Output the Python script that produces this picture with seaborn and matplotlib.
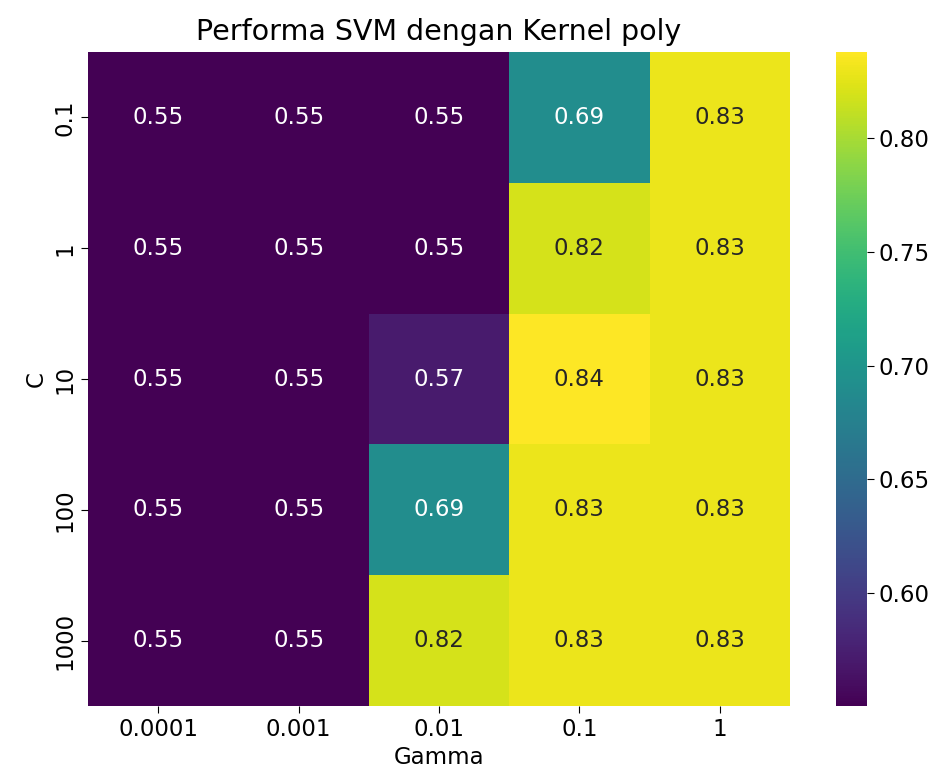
import numpy as np
import pandas as pd
import seaborn as sns
import matplotlib
matplotlib.use("Agg")
import matplotlib.pyplot as plt

c_values = ["0.1", "1", "10", "100", "1000"]
gamma_values = ["0.0001", "0.001", "0.01", "0.1", "1"]
row_c01 = [0.5503, 0.5503, 0.5503, 0.6905, 0.8300]
row_c1 = [0.5503, 0.5503, 0.5503, 0.8190, 0.8300]
row_c10 = [0.5503, 0.5503, 0.5714, 0.8380, 0.8300]
row_c100 = [0.5503, 0.5503, 0.6905, 0.8300, 0.8300]
row_c1000 = [0.5503, 0.5503, 0.8190, 0.8300, 0.8300]

df = pd.DataFrame([row_c01, row_c1, row_c10, row_c100, row_c1000],
                  index=c_values, columns=gamma_values)

fig = plt.figure(figsize=(9.44, 7.83), dpi=100)
ax = fig.add_axes([88/944, 1-706/783, (790-88)/944, (706-52)/783])
cax = fig.add_axes([836/944, 1-706/783, (867-836)/944, (706-52)/783])

sns.heatmap(df, annot=True, fmt=".2f", cmap="viridis", ax=ax, cbar_ax=cax,
            annot_kws={"fontsize": 16.5})
ax.set_title("Performa SVM dengan Kernel poly", fontsize=20.5, pad=9)
ax.set_xlabel("Gamma", fontsize=16.5)
ax.set_ylabel("C", fontsize=16.5)
ax.tick_params(axis="both", labelsize=16.5, length=5)
cax.tick_params(labelsize=16.5, length=5)
cax.set_yticks([0.60, 0.65, 0.70, 0.75, 0.80])
cax.set_yticklabels(["0.60", "0.65", "0.70", "0.75", "0.80"])

fig.savefig("out.png", dpi=100)
